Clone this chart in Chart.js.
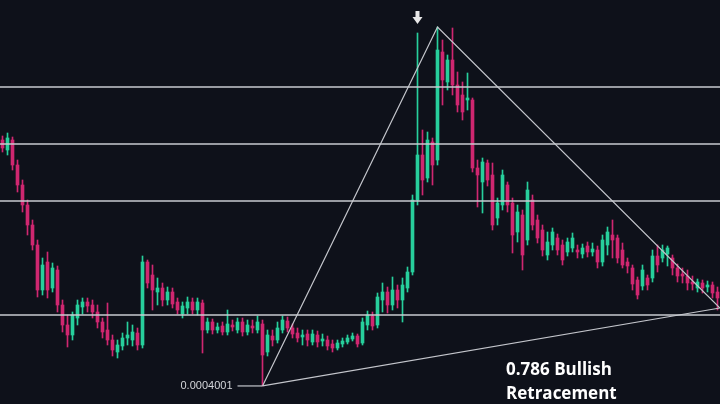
<!DOCTYPE html>
<html>
<head>
<meta charset="utf-8">
<script src="https://cdn.jsdelivr.net/npm/chart.js@4.4.1/dist/chart.umd.min.js"></script>
<style>
  html, body { margin: 0; padding: 0; background: #0e111a; overflow: hidden; }
  canvas { display: block; }
</style>
</head>
<body>
<canvas id="myChart" width="720" height="404"></canvas>
<script>
// prices are in millionths (x 1e-6), so 400.1 = 0.0004001
var opens = [
  892, 872, 892, 842, 802, 762, 722, 682, 592, 648, 596, 632, 562, 522, 502, 536, 558, 568, 562, 548,
  528, 512, 492, 468, 480, 496, 492, 506, 482, 648, 622, 588, 596, 572, 588, 568, 544, 556, 568, 552,
  566, 512, 528, 512, 520, 508, 522, 512, 528, 508, 520, 512, 524, 468, 500, 492, 512, 530, 516, 506,
  498, 504, 488, 502, 490, 492, 484, 476, 484, 488, 494, 500, 486, 522, 540, 522, 572, 588, 562, 592,
  572, 596, 628, 772, 862, 816, 888, 852, 1068, 1008, 1052, 1002, 982, 972, 972, 836, 808, 846, 822, 736,
  762, 802, 766, 708, 742, 692, 772, 732, 712, 662, 682, 696, 682, 668, 676, 672, 664, 680, 668, 672,
  648, 682, 702, 696, 672, 648, 636, 612, 600, 616, 616, 660, 656, 664, 656, 636, 624, 620, 608, 596,
  606, 598, 602, 588
];
var highs = [
  900, 906, 898, 852, 812, 772, 732, 692, 656, 668, 646, 640, 572, 542, 548, 572, 576, 576, 572, 562,
  536, 566, 502, 492, 506, 528, 522, 516, 660, 652, 642, 616, 606, 598, 596, 576, 568, 578, 576, 576,
  572, 536, 534, 526, 528, 552, 532, 536, 536, 532, 532, 540, 532, 512, 512, 528, 540, 538, 524, 516,
  512, 512, 512, 510, 504, 500, 492, 492, 496, 502, 506, 504, 536, 550, 548, 586, 606, 598, 618, 602,
  616, 638, 782, 1106, 912, 908, 896, 1118, 1092, 1062, 1116, 1028, 1008, 1026, 976, 852, 856, 852, 846, 776,
  832, 808, 776, 762, 752, 808, 782, 742, 722, 708, 716, 704, 692, 696, 706, 682, 684, 688, 686, 680,
  702, 718, 732, 702, 686, 656, 642, 618, 642, 622, 672, 682, 682, 680, 662, 644, 636, 632, 620, 614,
  612, 610, 608, 598
];
var lows = [
  868, 862, 832, 788, 748, 702, 672, 578, 582, 576, 588, 548, 508, 478, 492, 522, 544, 548, 536, 516,
  496, 482, 460, 456, 472, 482, 480, 472, 476, 596, 552, 562, 560, 562, 556, 544, 536, 544, 544, 542,
  466, 506, 504, 506, 502, 502, 510, 506, 500, 502, 506, 506, 400.1, 460, 480, 486, 506, 508, 496, 488,
  482, 480, 482, 478, 480, 472, 468, 472, 478, 484, 490, 478, 482, 512, 512, 516, 548, 546, 552, 556,
  528, 588, 622, 762, 782, 808, 802, 842, 962, 992, 982, 948, 932, 952, 828, 758, 746, 800, 712, 722,
  752, 748, 666, 688, 632, 682, 712, 686, 660, 652, 672, 662, 642, 660, 668, 656, 656, 658, 660, 636,
  640, 662, 656, 646, 636, 626, 592, 574, 592, 592, 608, 628, 648, 640, 622, 608, 606, 592, 592, 588,
  586, 588, 576, 552
];
var closes = [
  876, 896, 842, 802, 762, 722, 682, 592, 642, 592, 636, 562, 522, 502, 542, 562, 568, 560, 548, 528,
  508, 492, 472, 482, 496, 502, 508, 482, 648, 606, 592, 596, 572, 588, 564, 552, 560, 568, 552, 568,
  512, 528, 512, 518, 508, 524, 518, 528, 508, 522, 516, 528, 462, 502, 492, 516, 532, 516, 504, 496,
  502, 492, 504, 488, 494, 480, 476, 486, 490, 496, 500, 484, 528, 542, 520, 578, 588, 562, 592, 572,
  602, 628, 772, 862, 812, 892, 842, 1072, 1012, 1052, 1002, 962, 948, 976, 836, 822, 848, 812, 722, 766,
  822, 762, 702, 748, 662, 792, 722, 696, 672, 688, 708, 672, 652, 688, 696, 668, 676, 668, 674, 648,
  692, 708, 692, 656, 642, 640, 604, 582, 632, 602, 660, 642, 672, 676, 636, 620, 620, 606, 604, 608,
  596, 602, 586, 576
];

// fibonacci levels drawn across the chart
var fibLevels = [998, 884, 770, 542];
// swing points: [candle index, price]
var swingLow = [52, 400.1];
var swingHigh = [87, 1118];
var swingEnd = [143.5, 556];
var lowLabel = '0.0004001';
var noteLines = ['0.786 Bullish', 'Retracement'];

var green = '#27cf9c';
var pink = '#cf2770';

var wickData = [], bodyData = [], colors = [];
for (var i = 0; i < opens.length; i++) {
  wickData.push({ x: i, y: [lows[i], highs[i]] });
  bodyData.push({ x: i, y: [opens[i], closes[i]] });
  colors.push(closes[i] >= opens[i] ? green : pink);
}

var lineSets = fibLevels.map(function(v) {
  return {
    type: 'line', data: [{ x: -0.5, y: v }, { x: opens.length - 0.5, y: v }],
    borderColor: '#c9cbd0', borderWidth: 1.6, pointRadius: 0, order: 0
  };
});
lineSets.push({
  type: 'line',
  data: [
    { x: swingLow[0], y: swingLow[1] }, { x: swingHigh[0], y: swingHigh[1] },
    { x: swingEnd[0], y: swingEnd[1] }, { x: swingLow[0], y: swingLow[1] }
  ],
  borderColor: '#c4c6cc', borderWidth: 1.2, pointRadius: 0, order: 0
});
lineSets.push({
  type: 'line',
  data: [{ x: swingLow[0] - 5, y: swingLow[1] }, { x: swingLow[0], y: swingLow[1] }],
  borderColor: '#c4c6cc', borderWidth: 1.2, pointRadius: 0, order: 0
});

var extras = {
  id: 'extras',
  beforeDraw: function(chart) {
    var c = chart.ctx;
    c.save();
    c.fillStyle = '#0e111a';
    c.fillRect(0, 0, chart.width, chart.height);
    c.restore();
  },
  afterDraw: function(chart) {
    var c = chart.ctx, xs = chart.scales.x, ys = chart.scales.y;
    c.save();
    // label at the swing low
    c.fillStyle = '#d4d6da';
    c.font = '11px "Liberation Sans", Arial, sans-serif';
    c.textAlign = 'right';
    c.textBaseline = 'middle';
    c.fillText(lowLabel, xs.getPixelForValue(swingLow[0] - 5) - 5, ys.getPixelForValue(swingLow[1]));
    // arrow over the spike candle
    var ax = xs.getPixelForValue(83), ay = ys.getPixelForValue(highs[83]) - 9;
    c.fillStyle = '#e8e8e8';
    c.fillRect(ax - 2, ay - 13, 4, 7);
    c.beginPath();
    c.moveTo(ax - 5, ay - 7);
    c.lineTo(ax + 5, ay - 7);
    c.lineTo(ax, ay);
    c.closePath();
    c.fill();
    // note text
    c.fillStyle = '#ffffff';
    c.font = 'bold 17px "Open Sans", sans-serif';
    c.textAlign = 'left';
    c.textBaseline = 'alphabetic';
    c.fillText(noteLines[0], 506, 375);
    c.fillText(noteLines[1], 506, 399);
    c.restore();
  }
};

var ctx = document.getElementById('myChart').getContext('2d');
var myChart = new Chart(ctx, {
  type: 'bar',
  data: {
    datasets: lineSets.concat([
      { data: bodyData, backgroundColor: colors, barThickness: 3, minBarLength: 1, order: 1 },
      { data: wickData, backgroundColor: colors, barThickness: 1, order: 2 }
    ])
  },
  options: {
    responsive: false,
    animation: false,
    events: [],
    layout: { padding: 0 },
    plugins: { legend: { display: false }, tooltip: { enabled: false } },
    datasets: { bar: { grouped: false } },
    scales: {
      x: { type: 'linear', min: -0.5, max: opens.length - 0.5, offset: false, display: false },
      y: { min: 364, max: 1172, display: false }
    }
  },
  plugins: [extras]
});
</script>
</body>
</html>
